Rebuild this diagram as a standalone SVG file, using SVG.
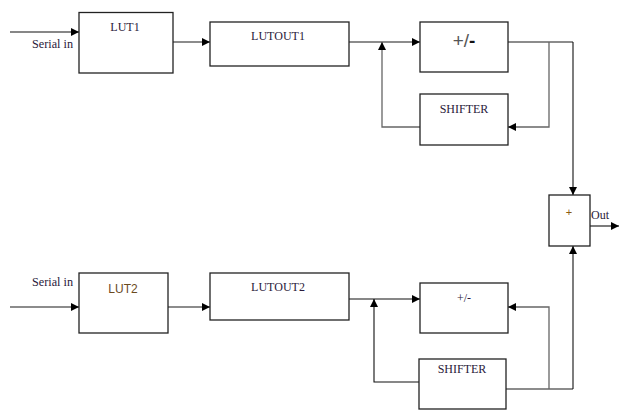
<svg xmlns="http://www.w3.org/2000/svg" width="620" height="410" viewBox="0 0 620 410">
  <defs>
    <marker id="arrow" viewBox="0 0 10 10" refX="10" refY="5" markerWidth="8" markerHeight="8" markerUnits="userSpaceOnUse" orient="auto">
      <path d="M0,0 L10,5 L0,10 z" fill="#000"/>
    </marker>
    <style>
      .box { fill: #fff; stroke: #222; stroke-width: 1.3; }
      .lbl { font-family: "Liberation Serif", "Times New Roman", serif; font-size: 12px; fill: #2a1a3a; }
      .sans { font-family: "Liberation Sans", Arial, sans-serif; }
      .wire { fill: none; stroke: #666; stroke-width: 1.3; }
      .wire-dark { fill: none; stroke: #111; stroke-width: 1.1; }
    </style>
  </defs>
  <rect width="620" height="410" fill="#fff"/>

  <!-- connectors -->
  <g id="connectors">
    <!-- upper channel -->
    <path class="wire-dark" d="M10,32 H79" marker-end="url(#arrow)"/>
    <path class="wire" d="M173,42 H210" marker-end="url(#arrow)"/>
    <path class="wire" d="M349,42 H420" marker-end="url(#arrow)"/>
    <path class="wire" d="M420,127 H382 V42" marker-end="url(#arrow)"/>
    <path class="wire" d="M508,42 H573"/>
    <path class="wire" d="M549,42 V127 H508" marker-end="url(#arrow)"/>
    <path class="wire-dark" d="M573,42 V195" marker-end="url(#arrow)"/>
    <!-- adder output -->
    <path class="wire-dark" d="M590,226 H619" marker-end="url(#arrow)"/>
    <!-- lower channel -->
    <path class="wire" d="M10,307 H79" marker-end="url(#arrow)"/>
    <path class="wire" d="M168,307 H210" marker-end="url(#arrow)"/>
    <path class="wire-dark" d="M349,299 H420" marker-end="url(#arrow)"/>
    <path class="wire-dark" d="M419,382 H374 V299" marker-end="url(#arrow)"/>
    <path class="wire" d="M506,389 H573"/>
    <path class="wire" d="M549,389 V307 H508" marker-end="url(#arrow)"/>
    <path class="wire-dark" d="M573,389 V246" marker-end="url(#arrow)"/>
  </g>

  <text class="lbl" x="32" y="48" textLength="41" lengthAdjust="spacingAndGlyphs">Serial in</text>
  <text class="lbl" x="32" y="286" textLength="41" lengthAdjust="spacingAndGlyphs">Serial in</text>

  <g id="lut1">
    <rect class="box" x="79" y="12.5" width="94" height="60.5"/>
    <text class="lbl" x="125" y="31" text-anchor="middle">LUT1</text>
  </g>
  <g id="lutout1">
    <rect class="box" x="210" y="22" width="139" height="44"/>
    <text class="lbl" x="278" y="40" text-anchor="middle">LUTOUT1</text>
  </g>
  <g id="addsub1">
    <rect class="box" x="420" y="22" width="88" height="50"/>
    <text class="sans" x="464" y="47" text-anchor="middle" font-size="19" fill="#555">+/<tspan fill="#111" font-weight="bold">-</tspan></text>
  </g>
  <g id="shifter1">
    <rect class="box" x="420" y="94" width="88" height="51"/>
    <text class="lbl" x="464" y="113" text-anchor="middle">SHIFTER</text>
  </g>

  <g id="adder">
    <rect class="box" x="549" y="195" width="41" height="51"/>
    <text class="sans" x="569" y="216" text-anchor="middle" font-size="11" fill="#8a5a10">+</text>
    <text class="lbl" x="591" y="219" textLength="18" lengthAdjust="spacingAndGlyphs">Out</text>
  </g>

  <g id="lut2">
    <rect class="box" x="79" y="273" width="89" height="60"/>
    <text class="sans" x="123" y="293" text-anchor="middle" font-size="12" fill="#6b4a1e">LUT2</text>
  </g>
  <g id="lutout2">
    <rect class="box" x="210" y="273" width="139" height="47"/>
    <text class="lbl" x="278" y="291" text-anchor="middle">LUTOUT2</text>
  </g>
  <g id="addsub2">
    <rect class="box" x="420" y="283" width="88" height="50"/>
    <text class="lbl" x="464" y="302" text-anchor="middle" font-size="15">+/-</text>
  </g>
  <g id="shifter2">
    <rect class="box" x="419" y="359" width="87" height="50"/>
    <text class="lbl" x="462" y="373" text-anchor="middle">SHIFTER</text>
  </g>
</svg>
